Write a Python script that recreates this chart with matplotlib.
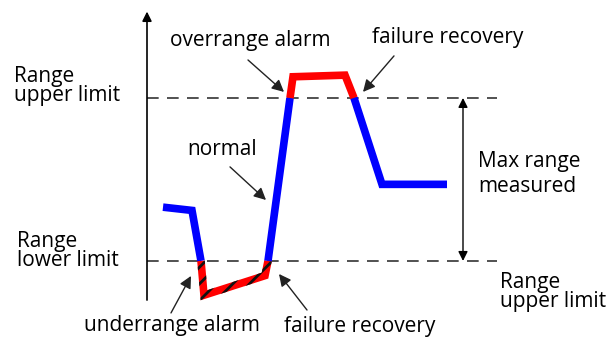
import numpy as np
import matplotlib.pyplot as plt
from matplotlib.patches import Polygon

# signal trace: time vs. measured level (range limits at 0 and 1)
t = [1.6, 4.5, 5.4, 5.7, 11.8, 12.1, 14.3, 14.6, 19.8, 20.7, 23.5, 30.0]
level = [0.33, 0.31, 0.0, -0.21, -0.09, 0.0, 1.0, 1.13, 1.14, 1.0, 0.47, 0.47]
lower_limit = 0.0
upper_limit = 1.0

plt.rcParams['font.family'] = ['Open Sans', 'DejaVu Sans']
plt.rcParams['hatch.linewidth'] = 2.0
font_size = 15
line_w = 5.5

fig = plt.figure(figsize=(6.16, 3.4), dpi=100)
ax = fig.add_axes([0, 0, 1, 1])
ax.set_xlim(-14.7, 46.9)
ax.set_ylim(-0.485, 1.601)
ax.axis('off')

# vertical axis with arrow
ax.annotate('', xy=(0, 1.53), xytext=(0, -0.24),
            arrowprops=dict(arrowstyle='-|>', color='black', lw=1.2,
                            mutation_scale=14, shrinkA=0, shrinkB=0))

# range limit lines
for lim in (lower_limit, upper_limit):
    ax.plot([0, 35.0], [lim, lim], color='#333333', lw=1.2, dashes=(7, 5))

# split the trace into normal / over / under runs
runs = []
for i in range(len(t) - 1):
    mid = (level[i] + level[i + 1]) / 2
    if mid < lower_limit:
        state = 'under'
    elif mid > upper_limit:
        state = 'over'
    else:
        state = 'normal'
    if runs and runs[-1][0] == state:
        runs[-1][1].append(i + 1)
    else:
        runs.append([state, [i, i + 1]])

for state, idx in runs:
    xs = [t[k] for k in idx]
    ys = [level[k] for k in idx]
    color = '#0000ff' if state == 'normal' else '#ff0000'
    ax.plot(xs, ys, color=color, lw=line_w, solid_joinstyle='miter',
            solid_capstyle='butt', zorder=3)
    if state != 'under':
        continue
    # hatched overlay following the thick stroke
    pts = ax.transData.transform(np.column_stack([xs, ys]))
    half = line_w / 72 * fig.dpi / 2
    seg = np.diff(pts, axis=0)
    nrm = np.column_stack([-seg[:, 1], seg[:, 0]])
    nrm /= np.linalg.norm(nrm, axis=1)[:, None]
    offs = np.zeros_like(pts)
    offs[0] = nrm[0] * half
    offs[-1] = nrm[-1] * half
    for k in range(1, len(pts) - 1):
        m = nrm[k - 1] + nrm[k]
        m /= np.linalg.norm(m)
        offs[k] = m * half / np.dot(m, nrm[k])
    outline = np.vstack([pts + offs, (pts - offs)[::-1]])
    outline = ax.transData.inverted().transform(outline)
    ax.add_patch(Polygon(outline, closed=True, fc='none', ec='#111111',
                         lw=0, hatch='//', zorder=4))

arrow = dict(arrowstyle='-|>', color='#222222', lw=1.0, mutation_scale=18,
             shrinkA=0, shrinkB=0)

callouts = [
    ('overrange alarm', (10.3, 1.35), (10.1, 1.233), (13.7, 1.037)),
    ('failure recovery', (30.1, 1.368), (24.7, 1.258), (21.6, 1.037)),
    ('normal', (7.5, 0.681), (8.3, 0.577), (11.9, 0.374)),
    ('underrange alarm', (2.5, -0.399), (2.4, -0.319), (4.4, -0.092)),
    ('failure recovery', (21.3, -0.405), (16.0, -0.301), (13.2, -0.080)),
]
for label, txt_pos, tail, head in callouts:
    ax.annotate('', xy=head, xytext=tail, arrowprops=arrow)
    ax.text(*txt_pos, label, ha='center', va='center', fontsize=font_size)

ax.text(-13.3, 1.074, 'Range\nupper limit', ha='left', va='center',
        fontsize=font_size, linespacing=0.9)
ax.text(-13.0, 0.061, 'Range\nlower limit', ha='left', va='center',
        fontsize=font_size, linespacing=0.9)
ax.text(35.3, -0.19, 'Range\nupper limit', ha='left', va='center',
        fontsize=font_size, linespacing=0.9)
ax.text(33.1, 0.534, 'Max range\nmeasured', ha='left', va='center',
        fontsize=font_size, linespacing=1.25)

# max range span
ax.annotate('', xy=(31.6, upper_limit), xytext=(31.6, lower_limit),
            arrowprops=dict(arrowstyle='<|-|>', color='black', lw=1.0,
                            mutation_scale=14, shrinkA=0, shrinkB=0))

plt.savefig('out.png', dpi=100)
